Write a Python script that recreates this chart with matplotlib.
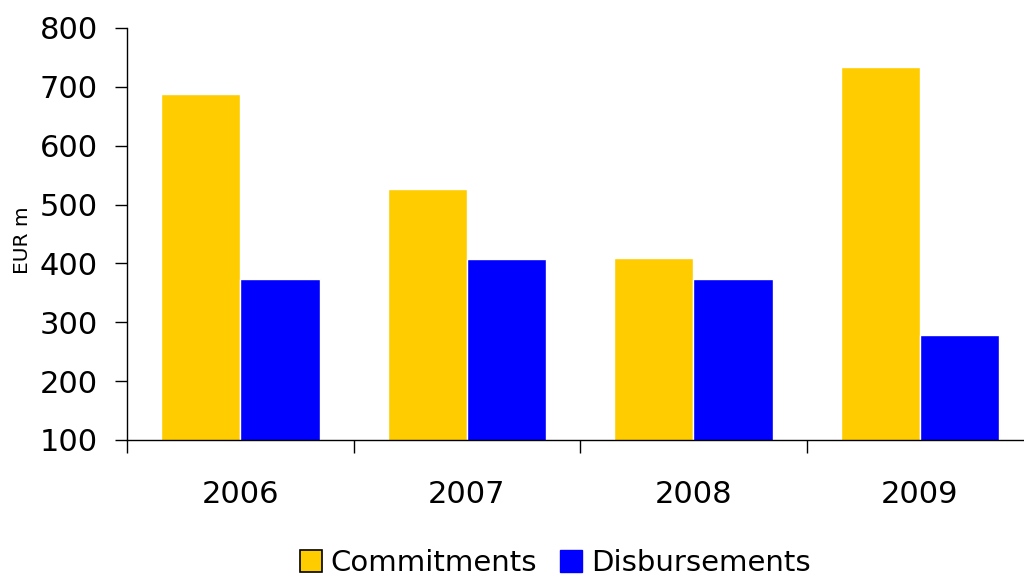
# Commitments vs disbursements bar chart

import numpy as np
import matplotlib.pyplot as plt
from matplotlib.patches import Patch

years = ['2006', '2007', '2008', '2009']
commitments = [688, 526, 409, 734]
disbursements = [373, 407, 373, 278]

plt.rcParams['font.family'] = ['DejaVu Sans']

fig = plt.figure(figsize=(10.24, 5.82), dpi=100)
# axes runs slightly past the right edge, as in the original
ax = fig.add_axes([0.124, 0.244, 0.885, 0.708])

x = np.arange(len(years))
w = 0.35
ax.bar(x - w/2, commitments, w, bottom=0, color='#FFCC00', edgecolor='white', linewidth=1)
ax.bar(x + w/2, disbursements, w, bottom=0, color='#0000FF', edgecolor='white', linewidth=1)

ax.set_ylim(100, 800)
ax.set_xlim(-0.5, len(years) - 0.5)
ax.set_yticks(range(100, 801, 100))

# ticks between categories, labels centred
ax.set_xticks(np.arange(-0.5, len(years), 1))
ax.set_xticklabels([])
ax.set_xticks(x, minor=True)
ax.set_xticklabels(years, minor=True)
ax.tick_params(axis='x', which='major', length=9, width=1, direction='out')
ax.tick_params(axis='x', which='minor', length=0, pad=29, labelsize=22)
ax.tick_params(axis='y', length=9, width=1, direction='out', pad=12, labelsize=22)

for s in ['top', 'right']:
    ax.spines[s].set_visible(False)
for s in ['left', 'bottom']:
    ax.spines[s].set_linewidth(1)

fig.text(0.022, 0.588, 'EUR m', rotation=90, fontsize=14.5, va='center', ha='center')

handles = [Patch(facecolor='#FFCC00', edgecolor='black', linewidth=1.2, label='Commitments'),
           Patch(facecolor='#0000FF', edgecolor='#0000FF', label='Disbursements')]
fig.legend(handles=handles, loc='lower center', bbox_to_anchor=(0.542, -0.037), ncol=2,
           frameon=False, fontsize=21, handlelength=0.75, handleheight=0.75,
           handletextpad=0.3, columnspacing=0.8)

plt.savefig('out.png', dpi=100)
